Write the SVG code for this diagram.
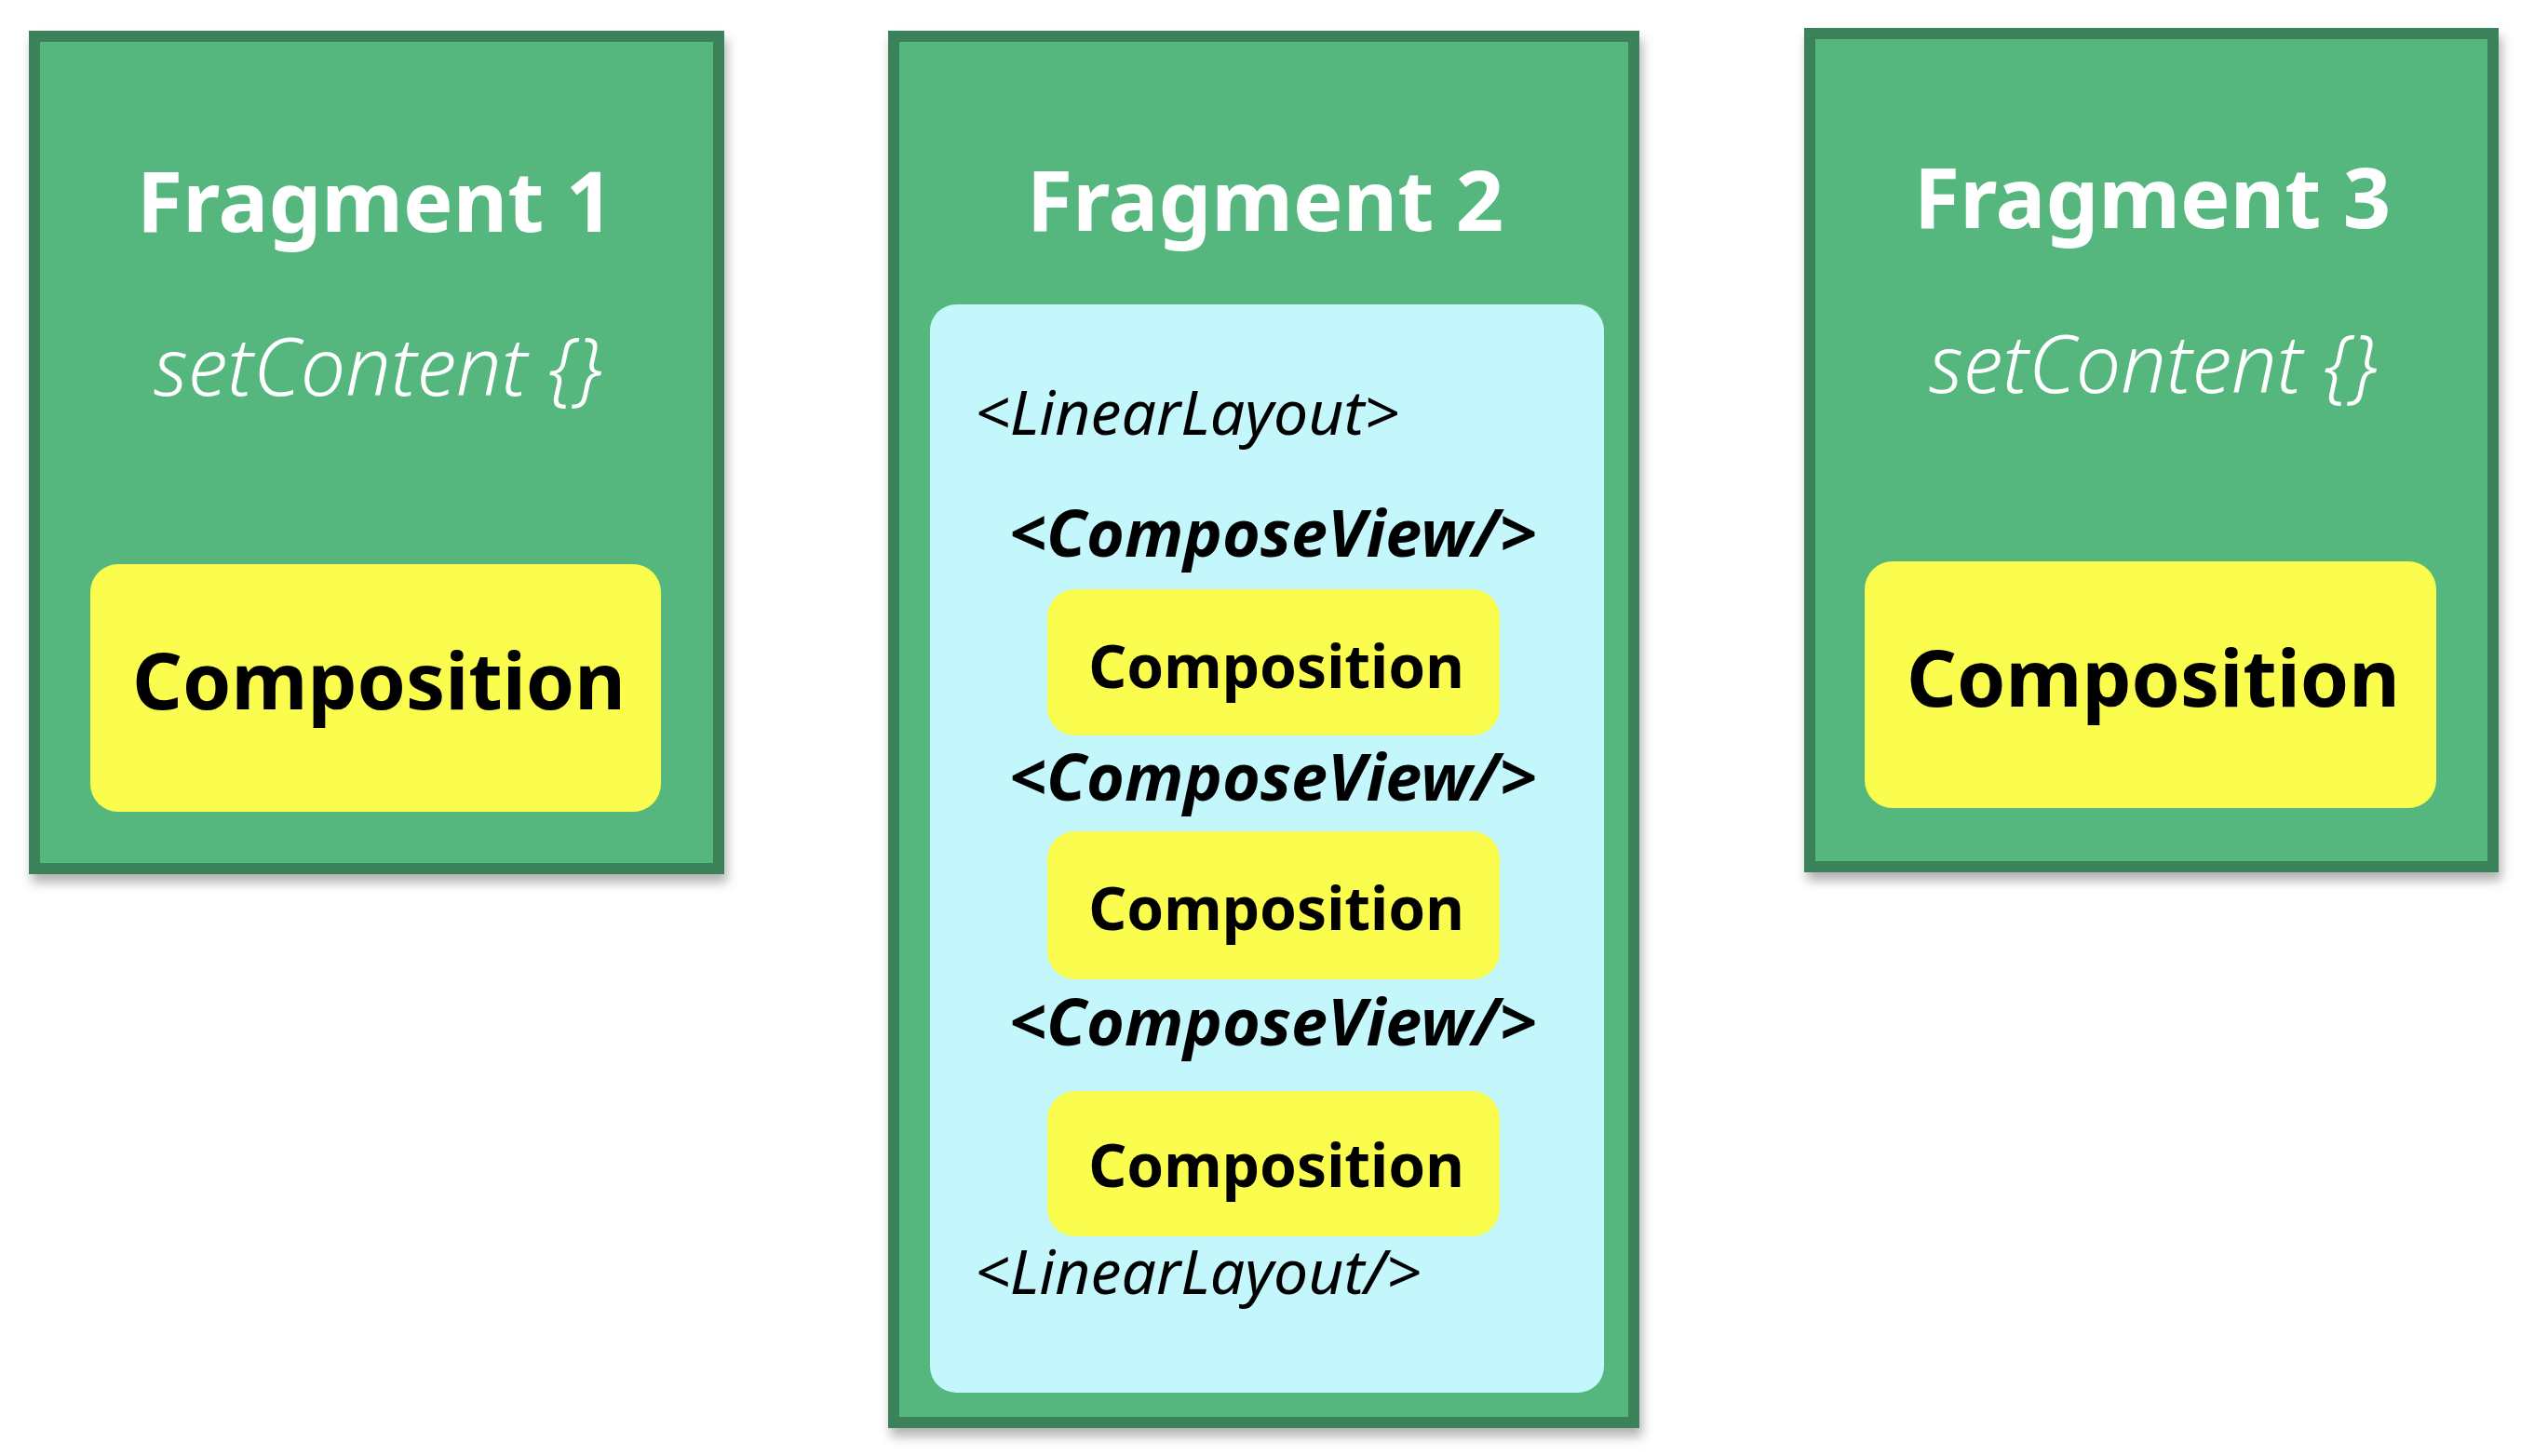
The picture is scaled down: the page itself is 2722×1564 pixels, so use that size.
<svg xmlns="http://www.w3.org/2000/svg" width="2722" height="1564" viewBox="0 0 2722 1564">
<style>
.frag{fill:#54b77e;stroke:#3a825a;stroke-width:12;}
.comp{fill:#fafd4e;}
.lin{fill:#c3f7fb;}
.title{font-family:"Noto Sans","Open Sans",sans-serif;font-weight:700;font-size:90px;fill:#ffffff;text-anchor:middle;}
.set{font-family:"Noto Sans","Open Sans",sans-serif;font-style:italic;font-weight:300;font-size:86px;fill:#ffffff;text-anchor:middle;}
.bigc{font-family:"Noto Sans","Open Sans",sans-serif;font-weight:700;font-size:84px;fill:#000000;text-anchor:middle;}
.smc{font-family:"Noto Sans","Open Sans",sans-serif;font-weight:700;font-size:64px;fill:#000000;text-anchor:middle;}
.ll{font-family:"Noto Sans","Open Sans",sans-serif;font-style:italic;font-size:66px;fill:#000000;}
.cv{font-family:"Noto Sans","Open Sans",sans-serif;font-style:italic;font-weight:700;font-size:70px;fill:#000000;}
</style>
<defs>
<filter id="sh" x="-10%" y="-10%" width="120%" height="120%">
<feDropShadow dx="3" dy="9" stdDeviation="6" flood-color="#000000" flood-opacity="0.3"/>
</filter>
</defs>
<rect width="2722" height="1564" fill="#ffffff"/>
<g id="connectors"></g>
<g id="fragment1">
<rect class="frag" x="37" y="39" width="735" height="894" filter="url(#sh)"/>
<text class="title" x="403" y="249">Fragment 1</text>
<text class="set" x="406" y="425">setContent {}</text>
<g id="composition1">
<rect class="comp" x="97" y="606" width="613" height="266" rx="30"/>
<text class="bigc" x="407" y="762">Composition</text>
</g>
</g>
<g id="fragment2">
<rect class="frag" x="960" y="39" width="795" height="1489" filter="url(#sh)"/>
<text class="title" x="1359" y="248">Fragment 2</text>
<g id="linearlayout">
<rect class="lin" x="999" y="327" width="724" height="1169" rx="28"/>
<text class="ll" x="1047" y="467">&lt;LinearLayout&gt;</text>
<text class="cv" x="1084" y="598">&lt;ComposeView/&gt;</text>
<g id="composition2a">
<rect class="comp" x="1125" y="633" width="486" height="157" rx="30"/>
<text class="smc" x="1371" y="739">Composition</text>
</g>
<text class="cv" x="1084" y="860">&lt;ComposeView/&gt;</text>
<g id="composition2b">
<rect class="comp" x="1125" y="893" width="486" height="159" rx="30"/>
<text class="smc" x="1371" y="999">Composition</text>
</g>
<text class="cv" x="1084" y="1123">&lt;ComposeView/&gt;</text>
<g id="composition2c">
<rect class="comp" x="1125" y="1172" width="486" height="156" rx="30"/>
<text class="smc" x="1371" y="1275">Composition</text>
</g>
<text class="ll" x="1047" y="1390">&lt;LinearLayout/&gt;</text>
</g>
</g>
<g id="fragment3">
<rect class="frag" x="1944" y="36" width="734" height="895" filter="url(#sh)"/>
<text class="title" x="2312" y="245">Fragment 3</text>
<text class="set" x="2313" y="422">setContent {}</text>
<g id="composition3">
<rect class="comp" x="2003" y="603" width="614" height="265" rx="30"/>
<text class="bigc" x="2313" y="759">Composition</text>
</g>
</g>
</svg>
